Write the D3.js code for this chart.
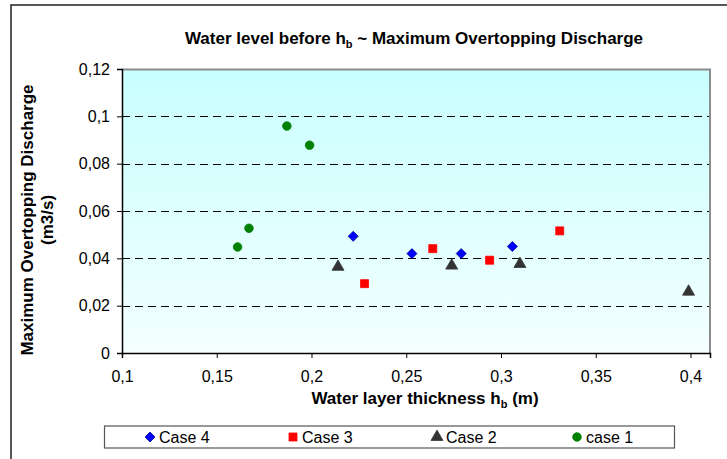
<!DOCTYPE html>
<html>
<head>
<meta charset="utf-8">
<script src="https://cdn.jsdelivr.net/npm/d3@7"></script>
<style>
  html, body { margin: 0; padding: 0; background: #ffffff; }
  svg { display: block; font-family: Arial, "Liberation Sans", sans-serif; }
</style>
</head>
<body>
<svg id="chart" width="727" height="459"></svg>
<script>
// ---- data ----
const seriesNames = ["Case 4", "Case 3", "Case 2", "case 1"];
const case4X = [0.222, 0.253, 0.279, 0.306];
const case4Y = [0.0493, 0.0420, 0.0420, 0.0450];
const case3X = [0.228, 0.264, 0.294, 0.331];
const case3Y = [0.0293, 0.0441, 0.0392, 0.0516];
const case2X = [0.214, 0.274, 0.310, 0.399];
const case2Y = [0.0364, 0.0369, 0.0376, 0.0259];
const case1X = [0.161, 0.167, 0.187, 0.199];
const case1Y = [0.0448, 0.0527, 0.0959, 0.0878];
const xTicks = [0.1, 0.15, 0.2, 0.25, 0.3, 0.35, 0.4];
const yTicks = [0, 0.02, 0.04, 0.06, 0.08, 0.1, 0.12];
const titleText = "Water level before h";
const xTitleText = "Water layer thickness h";
const yTitleLines = ["Maximum Overtopping Discharge", "(m3/s)"];

// custom square-ish diamond
const diamond = {
  draw(ctx, size) {
    const r = Math.sqrt(size / 2);
    ctx.moveTo(0, -r); ctx.lineTo(r, 0); ctx.lineTo(0, r); ctx.lineTo(-r, 0); ctx.closePath();
  }
};

const series = [
  { name: seriesNames[0], xs: case4X, ys: case4Y, shape: diamond, color: "#0000ff", size: 50, stroke: "#00008b" },
  { name: seriesNames[1], xs: case3X, ys: case3Y, shape: d3.symbolSquare, color: "#ff0000", size: 64, stroke: "#ff0000" },
  { name: seriesNames[2], xs: case2X, ys: case2Y, shape: d3.symbolTriangle, color: "#333333", size: 62, stroke: "#333333" },
  { name: seriesNames[3], xs: case1X, ys: case1Y, shape: d3.symbolCircle, color: "#008000", size: 58, stroke: "#008000" }
];

const locale = d3.formatLocale({ decimal: ",", thousands: ".", grouping: [3], currency: ["", ""] });
const fmt = v => locale.format("~g")(+v.toFixed(4));

// ---- layout ----
const svg = d3.select("#chart");
const plot = { left: 122, right: 710, top: 69, bottom: 353 };

const x = d3.scaleLinear().domain([0.1, 0.4103]).range([plot.left, plot.right]);
const y = d3.scaleLinear().domain([0, 0.12]).range([plot.bottom, plot.top]);

// outer chart border
svg.append("rect").attr("x", 11).attr("y", 5).attr("width", 730).attr("height", 470)
  .attr("fill", "none").attr("stroke", "#222").attr("stroke-width", 1.5);

// gradient background
const defs = svg.append("defs");
const grad = defs.append("linearGradient").attr("id", "bg").attr("x1", 0).attr("y1", 0).attr("x2", 0).attr("y2", 1);
grad.append("stop").attr("offset", "0%").attr("stop-color", "#c8ffff");
grad.append("stop").attr("offset", "100%").attr("stop-color", "#f4ffff");

svg.append("rect").attr("x", plot.left).attr("y", plot.top)
  .attr("width", plot.right - plot.left).attr("height", plot.bottom - plot.top)
  .attr("fill", "url(#bg)");

// gridlines
svg.append("g").selectAll("line").data(yTicks.filter(d => d > 0)).join("line")
  .attr("x1", plot.left).attr("x2", plot.right)
  .attr("y1", d => Math.round(y(d)) + 0.5).attr("y2", d => Math.round(y(d)) + 0.5)
  .attr("stroke", "#000").attr("stroke-width", 1).attr("stroke-dasharray", "8,5");

// plot border (top/right grey)
svg.append("path")
  .attr("d", `M${plot.left},${plot.top + 0.5}H${plot.right}V${plot.bottom}`)
  .attr("fill", "none").attr("stroke", "#8c8c8c").attr("stroke-width", 2);

// axes
const yAxis = d3.axisLeft(y).tickValues(yTicks).tickFormat(fmt).tickSize(5).tickPadding(7);
const gy = svg.append("g").attr("transform", `translate(${plot.left},0)`).call(yAxis);
gy.select(".domain").attr("stroke", "#000").attr("stroke-width", 1.5);
gy.selectAll(".tick line").attr("stroke", "#000");
gy.selectAll(".tick text").attr("font-size", 16).attr("fill", "#000").attr("font-family", "Arial, 'Liberation Sans', sans-serif");

const xAxis = d3.axisBottom(x).tickValues(xTicks).tickFormat(fmt).tickSize(5).tickPadding(13);
const gx = svg.append("g").attr("transform", `translate(0,${plot.bottom})`).call(xAxis);
gx.select(".domain").attr("stroke", "#000").attr("stroke-width", 1.5);
gx.selectAll(".tick line").attr("stroke", "#000");
gx.selectAll(".tick text").attr("font-size", 16).attr("fill", "#000").attr("font-family", "Arial, 'Liberation Sans', sans-serif");

// markers
series.forEach(s => {
  const pts = s.xs.map((v, i) => [v, s.ys[i]]);
  svg.append("g").selectAll("path").data(pts).join("path")
    .attr("transform", d => `translate(${x(d[0])},${y(d[1])})`)
    .attr("d", d3.symbol().type(s.shape).size(s.size))
    .attr("fill", s.color).attr("stroke", s.stroke).attr("stroke-width", 0.8);
});

// title
const title = svg.append("text").attr("x", 414).attr("y", 44).attr("text-anchor", "middle")
  .attr("font-size", 17).attr("font-weight", "bold").attr("fill", "#000");
title.append("tspan").text(titleText);
title.append("tspan").attr("font-size", 11).attr("dy", 4).text("b");
title.append("tspan").attr("dy", -4).text(" ~ Maximum Overtopping Discharge");

// x title
const xt = svg.append("text").attr("x", 425).attr("y", 404).attr("text-anchor", "middle")
  .attr("font-size", 17).attr("font-weight", "bold").attr("fill", "#000");
xt.append("tspan").text(xTitleText);
xt.append("tspan").attr("font-size", 11).attr("dy", 4).text("b");
xt.append("tspan").attr("dy", -4).text(" (m)");

// y title
const yt = svg.append("text").attr("transform", "translate(33,220) rotate(-90)")
  .attr("text-anchor", "middle").attr("font-size", 17).attr("font-weight", "bold").attr("fill", "#000");
yt.selectAll("tspan").data(yTitleLines).join("tspan")
  .attr("x", 0).attr("dy", (d, i) => i === 0 ? 0 : 20).text(d => d);

// legend
svg.append("rect").attr("x", 104.5).attr("y", 426).attr("width", 570).attr("height", 22)
  .attr("fill", "#fff").attr("stroke", "#555").attr("stroke-width", 1.2);
const legX = [150, 293, 437, 577];
series.forEach((s, i) => {
  svg.append("path").attr("transform", `translate(${legX[i]},437)`)
    .attr("d", d3.symbol().type(s.shape).size(s.size)).attr("fill", s.color).attr("stroke", s.stroke).attr("stroke-width", 0.8);
  svg.append("text").attr("x", legX[i] + 9).attr("y", 443).attr("font-size", 16).attr("fill", "#000").text(s.name);
});
</script>
</body>
</html>
